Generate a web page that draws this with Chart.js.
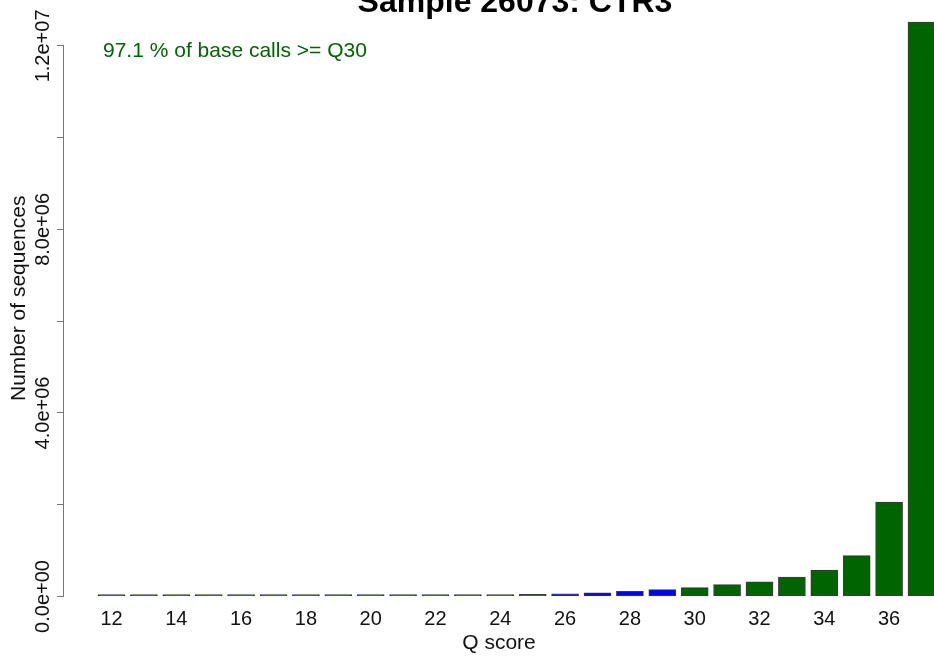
<!DOCTYPE html>
<html>
<head>
<meta charset="utf-8">
<script src="https://cdn.jsdelivr.net/npm/chart.js@4/dist/chart.umd.min.js"></script>
<style>
  html, body { margin: 0; padding: 0; background: #fff; overflow: hidden; }
  #wrap { position: relative; width: 934px; height: 659px; }
</style>
</head>
<body>
<div id="wrap"><canvas id="chart"></canvas></div>
<script>
// Q score histogram
const qScores = [12, 13, 14, 15, 16, 17, 18, 19, 20, 21, 22, 23, 24,
                 25, 26, 27, 28, 29, 30, 31, 32, 33, 34, 35, 36, 37];
const seqCounts = [9000, 7000, 8000, 10000, 22000, 35000, 14000, 11000, 9000, 10000, 11000, 13000, 16000,
                   45000, 60000, 82000, 112000, 150000, 192000, 258000, 322000, 425000, 578000, 890000, 2060000, 12520000];
const yLabelTicks = [0, 4000000, 8000000, 12000000];
const chartTitle = 'Sample 26073: CTR3';
const q30Note = '97.1 % of base calls >= Q30';
const xTitle = 'Q score';
const yTitle = 'Number of sequences';

const FONT = '"Liberation Sans", Arial, Helvetica, sans-serif';
Chart.defaults.font.family = FONT;

function sciLabel(v) {
    // R style: 4.0e+06
    let s = Number(v).toExponential(1);
    return s.replace(/e([+-])(\d)$/, 'e$10$2');
}

const extraText = {
    id: 'extraText',
    afterDraw(chart) {
        const ctx = chart.ctx;
        const area = chart.chartArea;
        const y = chart.scales.y;
        ctx.save();
        // y axis line, only over the labelled range
        ctx.strokeStyle = '#777';
        ctx.lineWidth = 1;
        ctx.beginPath();
        ctx.moveTo(Math.round(area.left) - 0.5, y.getPixelForValue(0));
        ctx.lineTo(Math.round(area.left) - 0.5, y.getPixelForValue(12000000));
        ctx.stroke();

        ctx.fillStyle = '#000';
        ctx.font = 'bold 32px ' + FONT;
        ctx.textAlign = 'center';
        ctx.textBaseline = 'alphabetic';
        ctx.fillText(chartTitle, 515, 12);

        ctx.fillStyle = '#006400';
        ctx.font = '21px ' + FONT;
        ctx.textAlign = 'left';
        ctx.fillText(q30Note, 103, 57);
        ctx.restore();
    }
};

new Chart(document.getElementById('chart'), {
    type: 'bar',
    data: {
        datasets: [{
            label: 'sequences',
            data: qScores.map((q, i) => ({ x: q, y: seqCounts[i] })),
            backgroundColor: qScores.map(q => q >= 30 ? '#006400' : '#0000ff'),
            borderColor: '#3a3a3a',
            borderWidth: 1,
            borderSkipped: false,
            barThickness: 27,
            minBarLength: 2,
        }]
    },
    options: {
        responsive: true,
        maintainAspectRatio: false,
        animation: false,
        layout: { padding: { top: 0, right: 0, bottom: 0, left: 0 } },
        plugins: {
            legend: { display: false },
            tooltip: { enabled: false },
            title: { display: false }
        },
        scales: {
            x: {
                type: 'linear',
                offset: false,
                min: 10.534,
                max: 37.386,
                grid: { display: false, drawTicks: false, offset: false },
                border: { display: false },
                ticks: {
                    stepSize: 2,
                    includeBounds: false,
                    autoSkip: false,
                    maxRotation: 0,
                    padding: 11,
                    color: '#111',
                    font: { size: 20 }
                },
                title: {
                    display: true,
                    text: xTitle,
                    color: '#111',
                    font: { size: 21 },
                    padding: { top: 0, bottom: 3 }
                },
                afterFit(scale) { scale.height = 62.5; }
            },
            y: {
                min: 0,
                max: 13000000,
                grid: { drawOnChartArea: false, drawTicks: true, tickLength: 7, color: '#777' },
                border: { display: false },
                afterBuildTicks(scale) {
                    scale.ticks = [0, 2, 4, 6, 8, 10, 12].map(m => ({ value: m * 1000000 }));
                },
                ticks: {
                    autoSkip: false,
                    minRotation: 90,
                    maxRotation: 90,
                    crossAlign: 'center',
                    padding: -23,
                    color: '#111',
                    font: { size: 20 },
                    callback: (v) => yLabelTicks.includes(v) ? sciLabel(v) : ''
                },
                title: {
                    display: true,
                    text: yTitle,
                    color: '#111',
                    font: { size: 21 },
                    padding: { top: 7, bottom: 0 }
                },
                afterFit(scale) { scale.width = 64; }
            }
        }
    },
    plugins: [extraText]
});
</script>
</body>
</html>
